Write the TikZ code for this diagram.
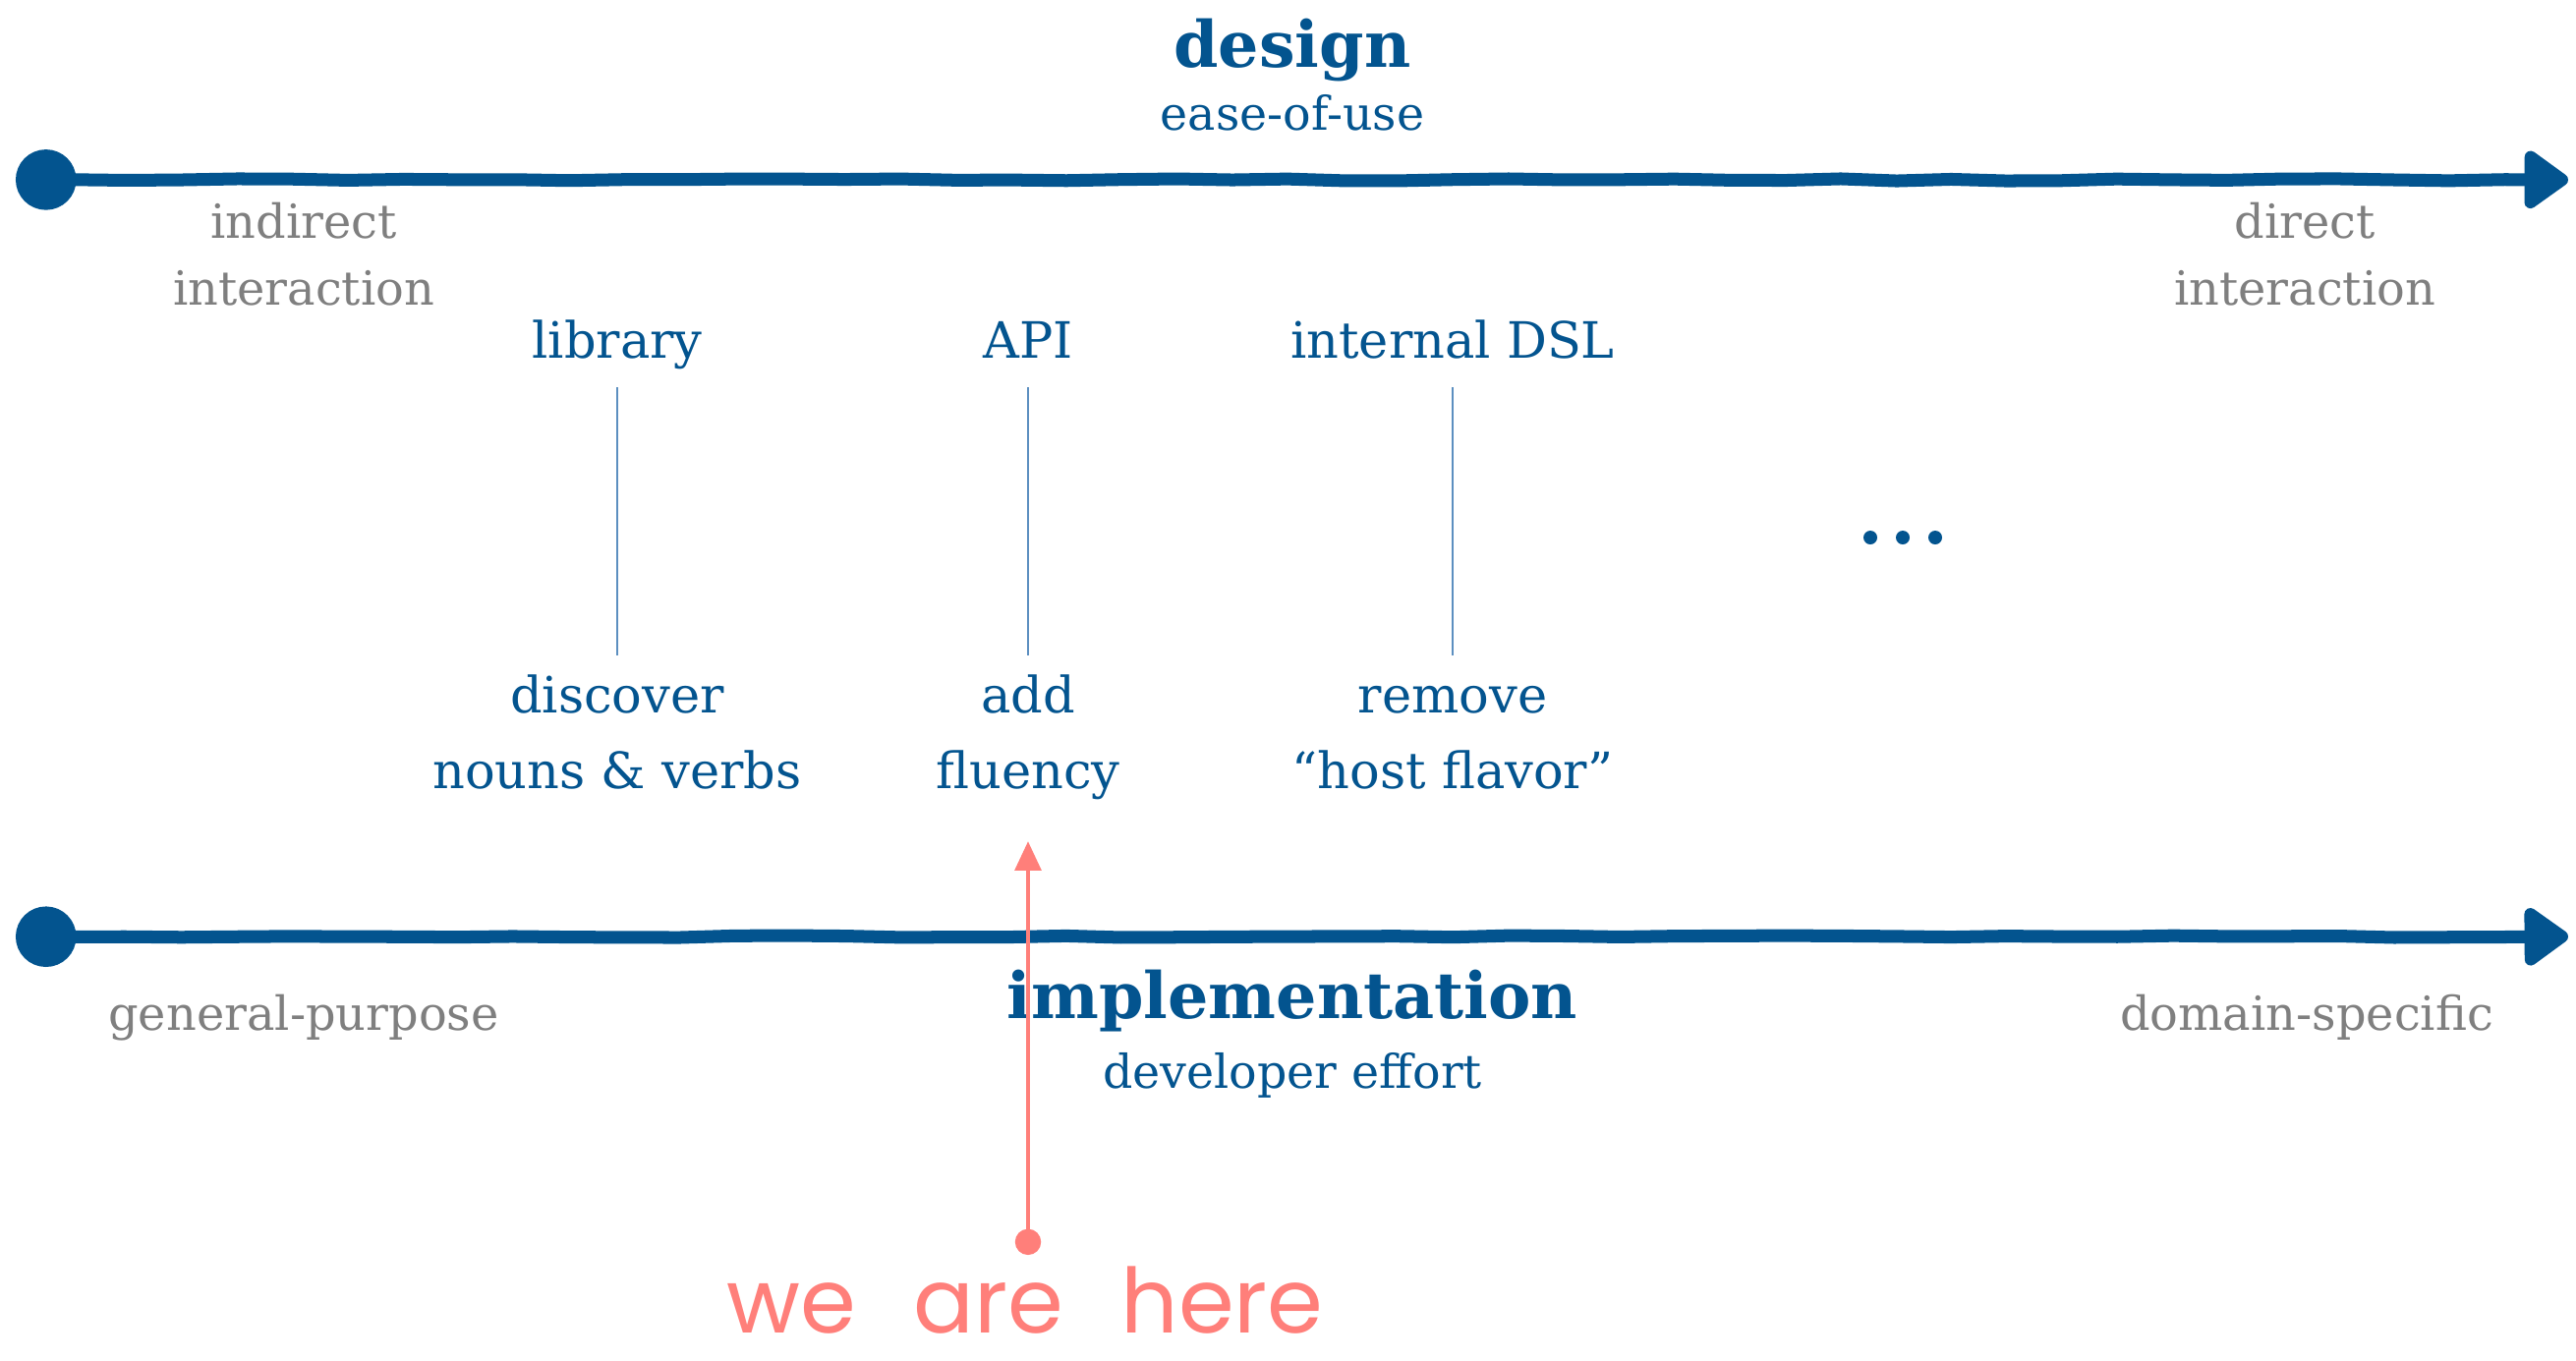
\documentclass[tikz,border=0pt]{standalone}
\usepackage{fontspec}
\setmainfont{DejaVu Serif}
\newfontfamily\handfont[WordSpace=2.4]{Poppins}
\usetikzlibrary{arrows.meta,calc,decorations.pathmorphing}
\definecolor{axisblue}{HTML}{03548F}
\definecolor{labelgray}{HTML}{7F7F7F}
\definecolor{pinkish}{HTML}{FF7F7A}
\definecolor{thinblue}{HTML}{5C8FC0}
\begin{document}
\begin{tikzpicture}[x=0.01cm,y=0.01cm,
  axisline/.style={draw=axisblue, line width=3.7pt,
    {Circle[length=17.5pt]}-{Triangle[length=14pt,width=19pt,round]},
    decorate, decoration={random steps, segment length=16pt, amplitude=0.3pt}},
  bigtitle/.style={anchor=base, inner sep=0, text=axisblue, font=\fontsize{18.5}{22}\selectfont\bfseries},
  subtitle/.style={anchor=base, inner sep=0, text=axisblue, font=\fontsize{13.5}{19}\selectfont},
  endlabel/.style={anchor=base, inner sep=0, align=center, text=labelgray, font=\fontsize{13.6}{19.1}\selectfont},
  steplabel/.style={anchor=base, inner sep=0, align=center, text=axisblue, font=\fontsize{14.5}{21.9}\selectfont},
  tick/.style={draw=thinblue, line width=0.6pt},
  ellipsisdot/.style={circle, fill=axisblue, inner sep=0, minimum size=0.14cm},
  herearrow/.style={draw=pinkish, line width=1.4pt, {Circle[length=7.5pt]}-{Triangle[length=8.5pt,width=7.5pt]}},
  handtext/.style={anchor=base, inner sep=0, text=pinkish, font=\handfont\fontsize{26}{30}\selectfont}
]
\pgfmathsetseed{7}
\useasboundingbox (0,0) rectangle (2621,-1384);

% axes
\coordinate (topstart) at (16,-183);
\coordinate (topend) at (2613,-183);
\coordinate (botstart) at (16,-953);
\coordinate (botend) at (2613,-953);
\draw[axisline] (topstart) -- (topend);
\draw[axisline] (botstart) -- (botend);

% titles
\node[bigtitle] (design) at (1315,-68) {design};
\node[subtitle] (ease) at (1315,-132) {ease-of-use};
\node[bigtitle] (impl) at (1315,-1036) {implementation};
\node[subtitle] (effort) at (1315,-1107) {developer effort};

% end labels (base = last line)
\node[endlabel] (indirect) at (309,-310) {indirect\\interaction};
\node[endlabel] (direct) at (2345,-310) {direct\\interaction};
\node[endlabel] (general) at (309,-1048) {general-purpose};
\node[endlabel] (domain) at (2347,-1048) {domain-specific};

% steps
\node[steplabel] (library) at (628,-364) {library};
\node[steplabel] (api) at (1046,-364) {API};
\node[steplabel] (dsl) at (1478,-364) {internal DSL};
\node[steplabel] (discover) at (628,-802) {discover\\nouns \& verbs};
\node[steplabel] (fluency) at (1046,-802) {add\\fluency};
\node[steplabel] (remove) at (1478,-802) {remove\\“host flavor”};

\draw[tick] ($(library.base)+(0,-30)$) -- ($(discover.base)+(0,135)$);
\draw[tick] ($(api.base)+(0,-30)$) -- ($(fluency.base)+(0,135)$);
\draw[tick] ($(dsl.base)+(0,-30)$) -- ($(remove.base)+(0,135)$);

% ellipsis
\node[ellipsisdot] (e1) at (1903,-547) {};
\node[ellipsisdot] (e2) at (1936,-547) {};
\node[ellipsisdot] (e3) at (1969,-547) {};

% we are here
\coordinate (herefoot) at (1046,-1277);
\coordinate (heretip) at (1046,-856);
\draw[herearrow] (herefoot) -- (heretip);
\node[handtext] (here) at (1043,-1356) {we are here};
\end{tikzpicture}
\end{document}
